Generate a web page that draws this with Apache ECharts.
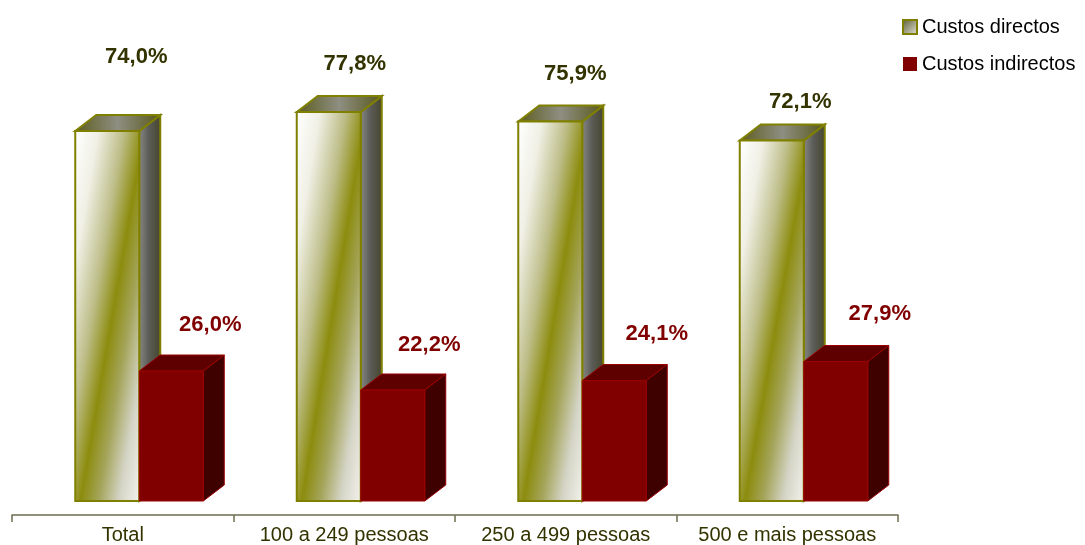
<!DOCTYPE html>
<html>
<head>
<meta charset="utf-8">
<script src="https://cdn.jsdelivr.net/npm/echarts@6/dist/echarts.min.js"></script>
<style>
html,body{margin:0;padding:0;background:#fff;}
#chart{width:1085px;height:545px;}
</style>
</head>
<body>
<div id="chart"></div>
<script>
// ---- data ----
const categories = ['Total', '100 a 249 pessoas', '250 a 499 pessoas', '500 e mais pessoas'];
const seriesNames = ['Custos directos', 'Custos indirectos'];
const directos = [74.0, 77.8, 75.9, 72.1];
const indirectos = [26.0, 22.2, 24.1, 27.9];

// ---- label nudges (px, relative to bar front centre / front top) ----
const nudgeDirectos = [[29, -74], [26, -48.5], [25, -48], [28.5, -39]];
const nudgeIndirectos = [[39, -46], [36.5, -45], [42.5, -46.5], [44, -48]];

const FONT = "'Liberation Sans', Arial, sans-serif";
const SHIFT = 16.5, W = 64, DX = 21, DY = 16;

function fmt(v) { return v.toFixed(1).replace('.', ',') + '%'; }

function makeRender(kind) {
  return function (params, api) {
    const i = api.value(0);
    const v = api.value(1);
    const base = api.coord([i, 0]);
    const top = api.coord([i, v]);
    const cx = base[0];
    const x = kind === 0 ? cx + SHIFT - W : cx + SHIFT;
    const yT = top[1], yB = base[1];
    const h = yB - yT;
    const children = [];
    let frontFill, topFill, sideFill, stroke, lw, labelColor, nudge;
    if (kind === 0) {
      const dxv = h, dyv = W; // perpendicular to the anti-diagonal
      const len = Math.sqrt(dxv * dxv + dyv * dyv);
      const ux = dxv / len, uy = dyv / len;
      const ext = (W / 2 * dxv + h / 2 * dyv) / len;
      const mx = x + W / 2, my = yT + h / 2;
      frontFill = {
        type: 'linear', global: true,
        x: mx - ux * ext, y: my - uy * ext, x2: mx + ux * ext, y2: my + uy * ext,
        colorStops: [
          { offset: 0, color: '#ffffff' },
          { offset: 0.18, color: '#f0f0e6' },
          { offset: 0.38, color: '#bdbd88' },
          { offset: 0.54, color: '#8c8c0e' },
          { offset: 0.68, color: '#a4a45a' },
          { offset: 0.84, color: '#d4d4c6' },
          { offset: 1, color: '#f2f2ec' }
        ]
      };
      topFill = {
        type: 'linear', x: 0, y: 0, x2: 1, y2: 0,
        colorStops: [
          { offset: 0, color: '#5c5c1e' },
          { offset: 0.5, color: '#8e8e82' },
          { offset: 1, color: '#58581a' }
        ]
      };
      sideFill = {
        type: 'linear', x: 0, y: 0, x2: 1, y2: 0,
        colorStops: [
          { offset: 0, color: '#8a8a86' },
          { offset: 0.45, color: '#5c5c58' },
          { offset: 1, color: '#45452c' }
        ]
      };
      stroke = '#808000'; lw = 2; labelColor = '#333300'; nudge = nudgeDirectos[i];
    } else {
      frontFill = '#800000'; topFill = '#5e0000'; sideFill = '#3f0000';
      stroke = '#990000'; lw = 1; labelColor = '#800000'; nudge = nudgeIndirectos[i];
    }
    children.push({
      type: 'polygon',
      shape: { points: [[x + W, yT], [x + W + DX, yT - DY], [x + W + DX, yB - DY], [x + W, yB]] },
      style: { fill: sideFill, stroke: stroke, lineWidth: lw, lineJoin: 'miter' }
    });
    children.push({
      type: 'polygon',
      shape: { points: [[x, yT], [x + DX, yT - DY], [x + W + DX, yT - DY], [x + W, yT]] },
      style: { fill: topFill, stroke: stroke, lineWidth: lw, lineJoin: 'miter' }
    });
    children.push({
      type: 'rect',
      shape: { x: x, y: yT, width: W, height: h },
      style: { fill: frontFill, stroke: stroke, lineWidth: lw }
    });
    children.push({
      type: 'text',
      style: {
        text: fmt(v), x: x + W / 2 + nudge[0], y: yT + nudge[1],
        align: 'center', verticalAlign: 'middle',
        fill: labelColor, font: 'bold 22px ' + FONT
      }
    });
    return { type: 'group', children: children };
  };
}

const legendGreen = {
  type: 'linear', x: 0, y: 0, x2: 1, y2: 1,
  colorStops: [{ offset: 0, color: '#5a5a30' }, { offset: 1, color: '#e6e6dc' }]
};

const chart = echarts.init(document.getElementById('chart'), null, { renderer: 'canvas' });
chart.setOption({
  animation: false,
  backgroundColor: '#ffffff',
  grid: { left: 12, right: 187, top: 1, bottom: 30, containLabel: false, outerBoundsMode: 'none' },
  legend: {
    orient: 'vertical', left: 897, top: 12,
    itemWidth: 14, itemHeight: 14, itemGap: 17,
    textStyle: { fontFamily: FONT, fontSize: 20, color: '#000000' },
    data: [
      { name: seriesNames[0], icon: 'rect', itemStyle: { color: legendGreen, borderColor: '#808000', borderWidth: 2 } },
      { name: seriesNames[1], icon: 'rect', itemStyle: { color: '#800000', borderWidth: 0 } }
    ]
  },
  xAxis: {
    type: 'category', data: categories, boundaryGap: true,
    axisLine: { onZero: false, lineStyle: { color: '#6e6e50', width: 1.5 } },
    axisTick: { show: true, length: 7, lineStyle: { color: '#6e6e50', width: 1.5 } },
    axisLabel: { interval: 0, fontFamily: FONT, fontSize: 20, color: '#333300', margin: 10 },
    splitLine: { show: false }
  },
  yAxis: { type: 'value', min: -2.8, max: 100, show: false },
  series: [
    {
      name: seriesNames[0], type: 'custom', renderItem: makeRender(0),
      itemStyle: { color: legendGreen, borderColor: '#808000' },
      encode: { x: 0, y: 1 },
      data: directos.map((v, i) => [i, v])
    },
    {
      name: seriesNames[1], type: 'custom', renderItem: makeRender(1),
      itemStyle: { color: '#800000' },
      encode: { x: 0, y: 1 },
      data: indirectos.map((v, i) => [i, v])
    }
  ]
});
</script>
</body>
</html>
